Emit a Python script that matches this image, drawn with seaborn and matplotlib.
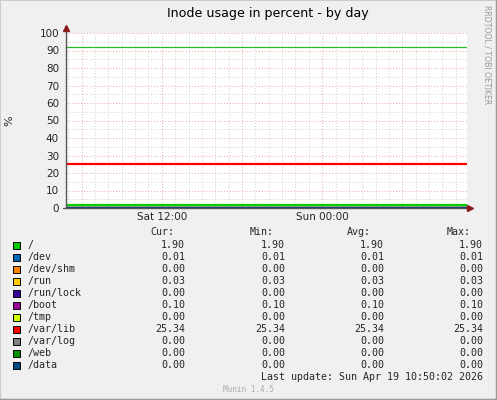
import numpy as np
import pandas as pd
import matplotlib.pyplot as plt
import seaborn as sns
from matplotlib.patches import Rectangle
from matplotlib.lines import Line2D

sns.set_style('white')

# time window in hours counted from Sat 00:00 (Sat 04:50 -> Sun 10:50)
t_start = 4.833
t_end = 34.833

names = ['/', '/dev', '/dev/shm', '/run', '/run/lock', '/boot', '/tmp',
         '/var/lib', '/var/log', '/web', '/data']
colors = ['#00CC00', '#0066B3', '#FF8000', '#FFCC00', '#330099', '#990099',
          '#CCFF00', '#FF0000', '#808080', '#008F00', '#00487D']
cur = [1.90, 0.01, 0.00, 0.03, 0.00, 0.10, 0.00, 25.34, 0.00, 0.00, 0.00]
vmin = [1.90, 0.01, 0.00, 0.03, 0.00, 0.10, 0.00, 25.34, 0.00, 0.00, 0.00]
vavg = [1.90, 0.01, 0.00, 0.03, 0.00, 0.10, 0.00, 25.34, 0.00, 0.00, 0.00]
vmax = [1.90, 0.01, 0.00, 0.03, 0.00, 0.10, 0.00, 25.34, 0.00, 0.00, 0.00]
warning = 92

xtick_pos = [12, 24]
xtick_labels = ['Sat 12:00', 'Sun 00:00']
yticks = [0, 10, 20, 30, 40, 50, 60, 70, 80, 90, 100]

rows = []
for n, v in zip(names, cur):
    rows.append({'t': t_start, 'fs': n, 'val': v})
    rows.append({'t': t_end, 'fs': n, 'val': v})
df = pd.DataFrame(rows)

W, H = 497, 400
fig = plt.figure(figsize=(W / 100, H / 100), dpi=100)
fig.patch.set_facecolor('#F0F0F0')

def fx(px):
    return px / W

def fy(py):
    return 1 - py / H

ax = fig.add_axes([fx(66), fy(208), fx(467) - fx(66), fy(33) - fy(208)])
ax.set_facecolor('white')

# grid
for y in np.arange(0, 101, 5):
    if y % 10:
        ax.axhline(y, color='#D0D0D0', lw=0.7, ls=(0, (1, 2)), zorder=0)
for h in np.arange(5, 35, 1):
    if h % 6:
        ax.axvline(h, color='#D0D0D0', lw=0.7, ls=(0, (1, 2)), zorder=0)
for y in yticks[1:]:
    ax.axhline(y, color='#E8A8A8', lw=0.7, ls=(0, (1, 2)), zorder=0.5)
for h in [6, 12, 18, 24, 30]:
    ax.axvline(h, color='#E8A8A8', lw=0.7, ls=(0, (1, 2)), zorder=0.5)

ax.axhline(warning, color='#22BB22', lw=0.9, zorder=2)

sns.lineplot(data=df, x='t', y='val', hue='fs', hue_order=names,
             palette=colors, lw=1.6, legend=False, ax=ax, zorder=3)

ax.set_xlim(t_start, t_end)
ax.set_ylim(0, 100)
ax.set_xticks(xtick_pos)
ax.set_xticklabels(xtick_labels)
ax.set_yticks(yticks)
ax.tick_params(axis='both', labelsize=7.5, length=2, width=0.7, color='#444444', pad=3)
ax.tick_params(axis='x', length=0)
ax.set_xlabel('')
ax.set_ylabel('%', fontsize=8, labelpad=18)
for s in ax.spines.values():
    s.set_visible(False)

# axes with arrows
fig.add_artist(Line2D([fx(66), fx(66)], [fy(208), fy(27)], color='#555555', lw=1.0))
fig.add_artist(Line2D([fx(63), fx(470)], [fy(208), fy(208)], color='#555555', lw=1.0))
fig.add_artist(Line2D([fx(66)], [fy(28)], marker='^', color='#8B1A1A', ms=5, lw=0))
fig.add_artist(Line2D([fx(470)], [fy(208)], marker='>', color='#8B1A1A', ms=5, lw=0))

fig.text(fx(268), fy(13), 'Inode usage in percent - by day', ha='center', va='center',
         fontsize=9.1, color='#000000')
fig.text(fx(487), fy(5), 'RRDTOOL / TOBI OETIKER', rotation=270, ha='center', va='top',
         fontsize=5.6, color='#999999')

# legend table
mono = 'DejaVu Sans Mono'
fs = 7.2
hy = 232
for lab, xr in zip(['Cur:', 'Min:', 'Avg:', 'Max:'], [150, 250, 347, 447]):
    fig.text(fx(xr), fy(hy), lab, ha='left', va='center', fontsize=fs, family=mono)
for i, n in enumerate(names):
    y = 245 + 12 * i
    fig.add_artist(Rectangle((fx(13), fy(y + 3.5)), fx(7), fy(0) - fy(7),
                             facecolor=colors[i], edgecolor='black', lw=0.7))
    fig.text(fx(27), fy(y), n, ha='left', va='center', fontsize=fs, family=mono)
    for vals, xr in zip([cur, vmin, vavg, vmax], [185, 285, 384, 483]):
        fig.text(fx(xr), fy(y), f'{vals[i]:.2f}', ha='right', va='center',
                 fontsize=fs, family=mono)
fig.text(fx(483), fy(377), 'Last update: Sun Apr 19 10:50:02 2026', ha='right',
         va='center', fontsize=fs, family=mono)
fig.text(0.5, fy(389), 'Munin 1.4.5', ha='center', va='center', fontsize=5.6,
         family=mono, color='#AAAAAA')

# frame
fig.add_artist(Line2D([0, 0], [0, 1], color='#CCCCCC', lw=1.5))
fig.add_artist(Line2D([0, 1], [1, 1], color='#CCCCCC', lw=1.5))
fig.add_artist(Line2D([1, 1], [0, 1], color='#999999', lw=2.5))
fig.add_artist(Line2D([0, 1], [0, 0], color='#999999', lw=2.5))

fig.savefig('out.png', dpi=100, facecolor=fig.get_facecolor())
